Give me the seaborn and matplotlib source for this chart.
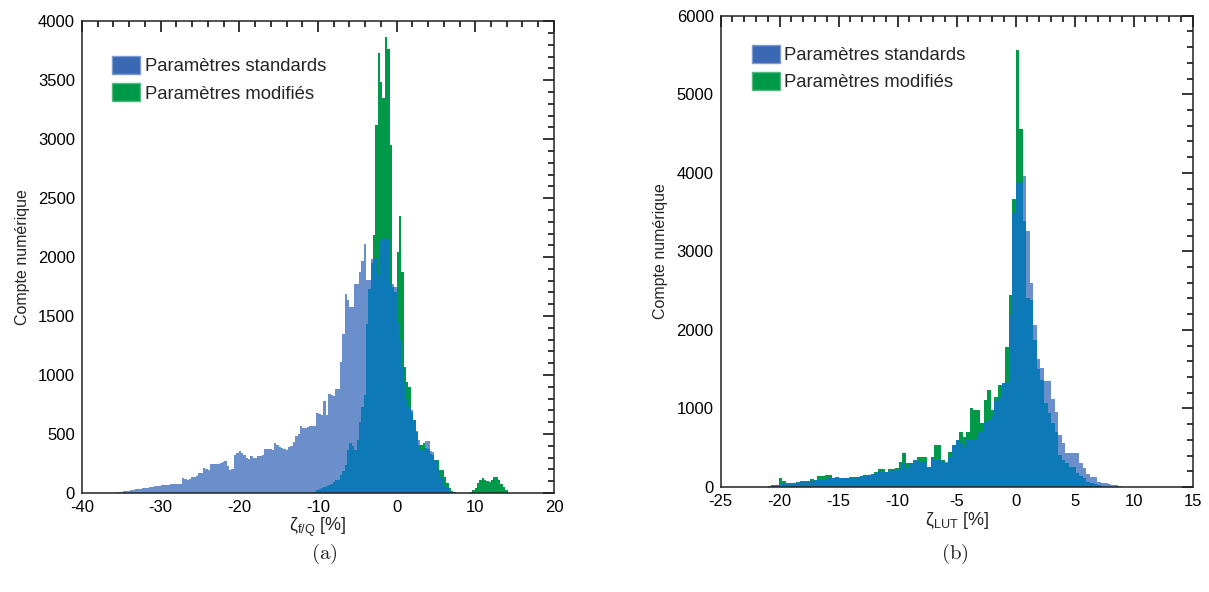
import numpy as np
import pandas as pd
import matplotlib
matplotlib.use('Agg')
import matplotlib.pyplot as plt
import seaborn as sns
from matplotlib.patches import Patch
from matplotlib.ticker import MultipleLocator

# bin width of both histograms
bin_w = 0.3

# panel (a): zeta_f/Q [%], counts per bin, first bin left edge given
a_std_start = -36.0
a_std = [0, 5, 10, 12, 15, 15, 20, 25, 25, 35,
         38, 35, 40, 45, 45, 48, 50, 58, 60, 62,
         68, 68, 70, 72, 76, 76, 78, 78, 80, 124,
         120, 110, 115, 138, 140, 144, 166, 170, 209, 200,
         195, 248, 248, 250, 250, 257, 265, 274, 229, 195,
         200, 322, 340, 356, 336, 320, 300, 285, 313, 300,
         296, 313, 313, 320, 373, 373, 370, 364, 420, 406,
         390, 378, 370, 364, 392, 400, 435, 483, 500, 567,
         548, 550, 556, 567, 567, 570, 675, 670, 663, 779,
         663, 838, 830, 820, 886, 886, 1112, 1352, 1690, 1634,
         1578, 1578, 1775, 1775, 1870, 1970, 2115, 1804, 1804, 1980,
         1990, 1990, 1850, 2140, 2150, 2160, 2150, 1770, 1770, 1750,
         1440, 1300, 1070, 930, 800, 731, 700, 618, 530, 449,
         364, 370, 440, 440, 358, 350, 280, 195, 140, 130,
         60, 40, 20, 5]
a_mod_start = -10.5
a_mod = [10, 25, 30, 40, 54, 60, 70, 80, 96, 110,
         110, 152, 190, 237, 364, 421, 400, 364, 449, 600,
         731, 830, 1437, 1733, 1950, 2185, 3122, 3729, 3484, 3350,
         3865, 3766, 2950, 1750, 1700, 2044, 2350, 1875, 1070, 943,
         900, 689, 618, 520, 406, 406, 420, 380, 370, 330,
         320, 280, 280, 195, 195, 138, 82, 40, 17, 5,
         0, 0, 0, 0, 0, 0, 10, 25, 40, 82,
         110, 124, 110, 100, 96, 110, 135, 138, 110, 80,
         50, 25]

# panel (b): zeta_LUT [%]
b_start = -21.3
b_std = [5, 13, 25, 25, 50, 47, 47, 47, 55, 68,
         70, 76, 76, 80, 85, 95, 100, 105, 110, 110,
         115, 115, 110, 110, 120, 125, 130, 140, 150, 153,
         165, 170, 190, 185, 195, 200, 210, 217, 240, 300,
         240, 300, 344, 330, 320, 320, 259, 365, 344, 344,
         320, 320, 380, 535, 600, 560, 514, 600, 600, 600,
         684, 705, 832, 854, 900, 1100, 1130, 1320, 1342, 2191,
         3487, 3869, 3880, 3962, 3253, 2603, 2064, 1627, 1512, 1355,
         1355, 1117, 960, 663, 556, 429, 429, 429, 429, 300,
         238, 166, 132, 132, 68, 55, 47, 40, 25, 25,
         15]
b_mod = [5, 13, 25, 25, 110, 76, 50, 47, 55, 68,
         70, 76, 76, 98, 90, 140, 140, 153, 153, 120,
         123, 115, 110, 110, 123, 125, 130, 140, 150, 153,
         165, 195, 229, 229, 195, 229, 230, 238, 323, 437,
         310, 300, 344, 386, 380, 378, 259, 378, 535, 535,
         344, 300, 450, 535, 600, 705, 640, 705, 1002, 980,
         980, 811, 1108, 1236, 980, 1150, 1300, 1320, 1788, 2446,
         3665, 5568, 4557, 3381, 2404, 2383, 1873, 1499, 1363, 1066,
         939, 811, 705, 408, 344, 302, 259, 259, 174, 140,
         110, 68, 55, 38, 21, 12, 5, 0, 0, 0,
         0]

LIGHT = '#6a8fca'
DARK = '#0e79b7'
GREEN = '#00994a'
LEG_BLUE = '#3a68b2'


def to_frame(std_start, std, mod_start, mod):
    s = pd.Series(std, index=np.round(std_start + bin_w * np.arange(len(std)), 1))
    m = pd.Series(mod, index=np.round(mod_start + bin_w * np.arange(len(mod)), 1))
    df = pd.concat({'std': s, 'mod': m}, axis=1).fillna(0).sort_index()
    df['both'] = df[['std', 'mod']].min(axis=1)
    df['center'] = df.index.values.astype(float) + bin_w / 2
    return df.reset_index(drop=True)


def draw(ax, df):
    lo = float(df['center'].iloc[0] - bin_w / 2)
    hi = float(df['center'].iloc[-1] + bin_w / 2)
    for col, c in [('mod', GREEN), ('std', LIGHT), ('both', DARK)]:
        sns.histplot(data=df, x='center', weights=col, bins=len(df),
                     binrange=(lo, hi), ax=ax, color=c, alpha=1,
                     linewidth=0, element='bars')


def style(ax, xlim, xmaj, xmin, ylim, ymaj, ymin, xlabel, leg_anchor):
    ax.set_xlim(*xlim)
    ax.set_ylim(*ylim)
    ax.xaxis.set_major_locator(MultipleLocator(xmaj))
    ax.xaxis.set_minor_locator(MultipleLocator(xmin))
    ax.yaxis.set_major_locator(MultipleLocator(ymaj))
    ax.yaxis.set_minor_locator(MultipleLocator(ymin))
    ax.tick_params(which='both', direction='in', top=True, right=True,
                   labelsize=12, width=1.1, colors='black')
    ax.tick_params(which='major', length=8)
    ax.tick_params(axis='x', which='major', pad=5)
    ax.tick_params(axis='y', which='major', pad=5)
    ax.tick_params(which='minor', length=4)
    for s in ax.spines.values():
        s.set_linewidth(1.1)
        s.set_color('#222222')
    ax.set_xlabel(xlabel, fontsize=13, labelpad=0.5)
    ax.set_ylabel('Compte numérique', fontsize=11.5, labelpad=6)
    handles = [Patch(facecolor=LEG_BLUE, edgecolor='#7d9bd0', linewidth=1),
               Patch(facecolor=GREEN, edgecolor='#55b883', linewidth=1)]
    ax.legend(handles, ['Paramètres standards', 'Paramètres modifiés'],
              loc='upper left', bbox_to_anchor=leg_anchor, frameon=False,
              fontsize=13.3, handlelength=1.5, handleheight=1.15,
              handletextpad=0.25, labelspacing=0.42, borderaxespad=0)


sns.set_style('white')
plt.rcParams['font.family'] = ['Liberation Sans', 'DejaVu Sans']
plt.rcParams['axes.unicode_minus'] = False
plt.rcParams['mathtext.fontset'] = 'custom'
plt.rcParams['mathtext.rm'] = 'Liberation Sans'
plt.rcParams['mathtext.it'] = 'Liberation Sans'

fig = plt.figure(figsize=(12.09, 5.92), dpi=100)
ax_a = fig.add_axes([0.0678, 0.1672, 0.3904, 0.797])
ax_b = fig.add_axes([0.5961, 0.1774, 0.3904, 0.796])

draw(ax_a, to_frame(a_std_start, a_std, a_mod_start, a_mod))
draw(ax_b, to_frame(b_start, b_std, b_start, b_mod))

style(ax_a, (-40, 20), 10, 2, (0, 4000), 500, 100,
      r'$\mathrm{\zeta_{f/Q}}$ [%]', (0.049, 0.942))
style(ax_b, (-25, 15), 5, 1, (0, 6000), 1000, 200,
      r'$\mathrm{\zeta_{LUT}}$ [%]', (0.051, 0.954))

fig.text(0.268, 0.056, r'$\mathrm{(a)}$', math_fontfamily='cm', fontsize=15, ha='center')
fig.text(0.790, 0.056, r'$\mathrm{(b)}$', math_fontfamily='cm', fontsize=15, ha='center')

fig.savefig('out.png', dpi=100)
